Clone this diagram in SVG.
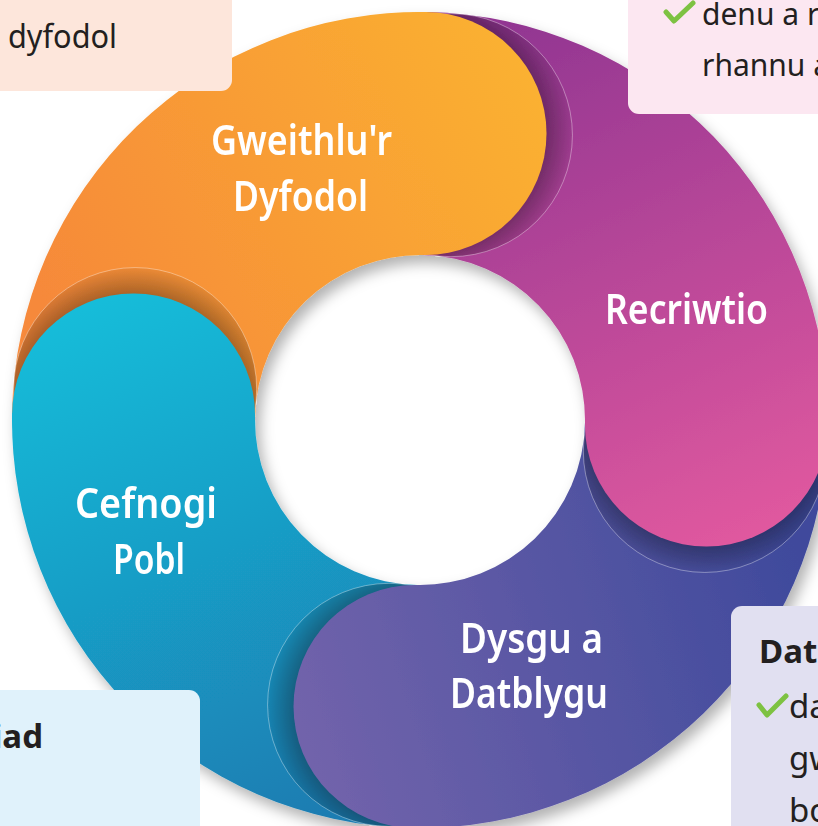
<svg xmlns="http://www.w3.org/2000/svg" width="818" height="826" viewBox="0 0 818 826">
<defs>
<style>
.lbl{font-family:"Noto Sans","DejaVu Sans",sans-serif;font-weight:600;font-size:42px;fill:#ffffff;text-anchor:middle}
.txt{font-family:"Noto Sans","DejaVu Sans",sans-serif;font-weight:400;font-size:33px;fill:#231f20}
.sm{font-size:30px}
.bold{font-weight:700}
.shadowline{stroke:#ffffff;stroke-opacity:0.45;stroke-width:0.8}
.tick{fill:none;stroke:#7dc242;stroke-width:5;stroke-linecap:round;stroke-linejoin:round}
</style>
<filter id="drop" x="-10%" y="-10%" width="125%" height="125%">
<feDropShadow dx="5" dy="8" stdDeviation="7" flood-color="#000000" flood-opacity="0.3"/>
</filter>
<linearGradient id="gOrange" gradientUnits="userSpaceOnUse" x1="60" y1="330" x2="560" y2="40">
<stop offset="0" stop-color="#f6893a"/><stop offset="1" stop-color="#fbb430"/>
</linearGradient>
<linearGradient id="gPurple" gradientUnits="userSpaceOnUse" x1="520" y1="20" x2="760" y2="540">
<stop offset="0" stop-color="#923692"/><stop offset="1" stop-color="#e1599f"/>
</linearGradient>
<linearGradient id="gIndigo" gradientUnits="userSpaceOnUse" x1="300" y1="720" x2="800" y2="560">
<stop offset="0" stop-color="#7163ab"/><stop offset="1" stop-color="#3f4a9c"/>
</linearGradient>
<linearGradient id="gCyan" gradientUnits="userSpaceOnUse" x1="130" y1="290" x2="350" y2="800">
<stop offset="0" stop-color="#17bcd9"/><stop offset="1" stop-color="#1b7db2"/>
</linearGradient>
<radialGradient id="sOrange" gradientUnits="userSpaceOnUse" cx="425" cy="133.54" r="150">
<stop offset="0.81" stop-color="#000" stop-opacity="0.3"/><stop offset="1" stop-color="#000" stop-opacity="0.02"/>
</radialGradient>
<radialGradient id="sPurple" gradientUnits="userSpaceOnUse" cx="706.46" cy="425" r="150">
<stop offset="0.81" stop-color="#000" stop-opacity="0.3"/><stop offset="1" stop-color="#000" stop-opacity="0.02"/>
</radialGradient>
<radialGradient id="sIndigo" gradientUnits="userSpaceOnUse" cx="415" cy="706.46" r="150">
<stop offset="0.81" stop-color="#000" stop-opacity="0.3"/><stop offset="1" stop-color="#000" stop-opacity="0.02"/>
</radialGradient>
<radialGradient id="sCyan" gradientUnits="userSpaceOnUse" cx="133.54" cy="415" r="150">
<stop offset="0.81" stop-color="#000" stop-opacity="0.3"/><stop offset="1" stop-color="#000" stop-opacity="0.02"/>
</radialGradient>
</defs>
<rect width="818" height="826" fill="#ffffff"/>
<g id="ring" filter="url(#drop)">
<g id="connectors">
<path id="seg-orange" fill="url(#gOrange)" d="M12.06,412.88 A408,408 0 0 1 427.12,12.06 L422.88,255.02 A165,165 0 0 0 255.02,417.12 Z"/>
<path id="seg-purple" fill="url(#gPurple)" d="M427.12,12.06 A408,408 0 0 1 827.94,427.12 L584.98,422.88 A165,165 0 0 0 422.88,255.02 Z"/>
<path id="seg-indigo" fill="url(#gIndigo)" d="M827.94,427.12 A408,408 0 0 1 412.88,827.94 L417.12,584.98 A165,165 0 0 0 584.98,422.88 Z"/>
<path id="seg-cyan" fill="url(#gCyan)" d="M412.88,827.94 A408,408 0 0 1 12.06,412.88 L255.02,417.12 A165,165 0 0 0 417.12,584.98 Z"/>
<circle class="shadowline" fill="url(#sOrange)" cx="450.94" cy="135.18" r="121.5"/>
<circle class="shadowline" fill="url(#sPurple)" cx="704.82" cy="450.94" r="121.5"/>
<circle class="shadowline" fill="url(#sIndigo)" cx="389.06" cy="704.82" r="121.5"/>
<circle class="shadowline" fill="url(#sCyan)" cx="135.18" cy="389.06" r="121.5"/>
</g>
<g id="node-gweithlu">
<circle fill="url(#gOrange)" cx="425" cy="133.54" r="121.5"/>
<text class="lbl" x="301.5" y="155" textLength="181" lengthAdjust="spacingAndGlyphs">Gweithlu'r</text>
<text class="lbl" x="300.5" y="211" textLength="135" lengthAdjust="spacingAndGlyphs">Dyfodol</text>
</g>
<g id="node-recriwtio">
<circle fill="url(#gPurple)" cx="706.46" cy="425" r="121.5"/>
<text class="lbl" x="686.5" y="324" textLength="163" lengthAdjust="spacingAndGlyphs">Recriwtio</text>
</g>
<g id="node-dysgu">
<circle fill="url(#gIndigo)" cx="415" cy="706.46" r="121.5"/>
<text class="lbl" x="531.5" y="653" textLength="143" lengthAdjust="spacingAndGlyphs">Dysgu a</text>
<text class="lbl" x="529" y="708" textLength="158" lengthAdjust="spacingAndGlyphs">Datblygu</text>
</g>
<g id="node-cefnogi">
<circle fill="url(#gCyan)" cx="133.54" cy="415" r="121.5"/>
<text class="lbl" x="146" y="518" textLength="142" lengthAdjust="spacingAndGlyphs">Cefnogi</text>
<text class="lbl" x="149" y="574" textLength="72" lengthAdjust="spacingAndGlyphs">Pobl</text>
</g>
</g>
<g id="box-topleft">
<rect x="-20" y="-20" width="252" height="111" rx="11" fill="#fde6db"/>
<text class="txt" x="8" y="48" textLength="109" lengthAdjust="spacingAndGlyphs">dyfodol</text>
</g>
<g id="box-topright">
<rect x="628" y="-20" width="220" height="134" rx="11" fill="#fce7f1"/>
<path class="tick" d="M666,12 L674,21 L693,3"/>
<text class="txt sm" x="702" y="25">denu a r</text>
<text class="txt sm" x="702" y="76">rhannu a</text>
</g>
<g id="box-bottomright">
<rect x="731" y="606" width="120" height="250" rx="11" fill="#e1e0f1"/>
<text class="txt bold" x="759" y="663">Dat</text>
<path class="tick" d="M759,705 L767,715 L786,696"/>
<text class="txt" x="789" y="718">da</text>
<text class="txt" x="789" y="770">gw</text>
<text class="txt" x="789" y="822">bo</text>
</g>
<g id="box-bottomleft">
<rect x="-20" y="690" width="220" height="160" rx="11" fill="#e0f2fb"/>
<text class="txt bold" x="43" y="748" text-anchor="end">iad</text>
</g>
</svg>
